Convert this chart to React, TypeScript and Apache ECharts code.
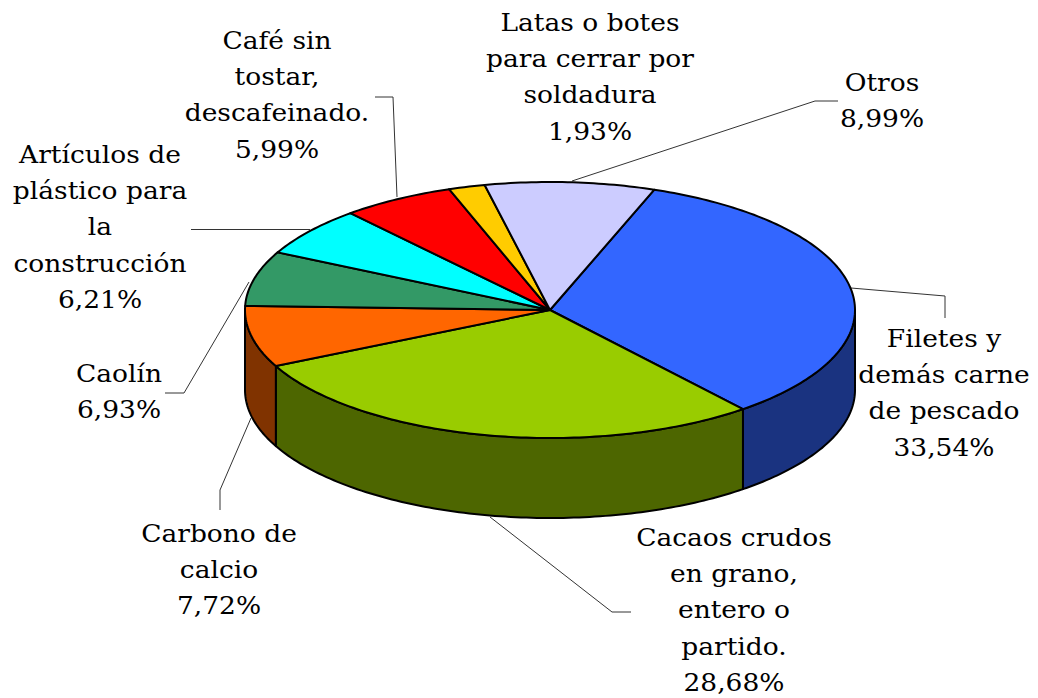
import React, { useEffect, useRef } from "react";
import * as echarts from "echarts";

const categories = [
  "Filetes y\ndemás carne\nde pescado",
  "Cacaos crudos\nen grano,\nentero o\npartido.",
  "Carbono de\ncalcio",
  "Caolín",
  "Artículos de\nplástico para\nla\nconstrucción",
  "Café sin\ntostar,\ndescafeinado.",
  "Latas o botes\npara cerrar por\nsoldadura",
  "Otros",
];
const values = [33.54, 28.68, 7.72, 6.93, 6.21, 5.99, 1.93, 8.99];
const valueLabels = ["33,54%", "28,68%", "7,72%", "6,93%", "6,21%", "5,99%", "1,93%", "8,99%"];
const topColors = ["#3366FF", "#99CC00", "#FF6600", "#339966", "#00FFFF", "#FF0000", "#FFCC00", "#CCCCFF"];
const sideColors = ["#1A3380", "#4D6600", "#803300", "#1A4D33", "#008080", "#800000", "#806600", "#666680"];
const labelCenters = [
  [944, 320], [734, 519], [219, 515], [119, 355], [100, 136], [277, 22], [590, 4], [882, 64],
];
const leaderLines = [
  [[851, 288], [945, 296], [945, 318]],
  [[490, 517], [612, 612], [631, 612]],
  [[251, 418], [220, 490], [220, 510]],
  [[249, 282], [184, 393], [165, 393]],
  [[310, 229.5], [191, 229.5]],
  [[397, 197], [393, 97], [375, 97]],
  [[572, 181], [815, 101], [838, 101]],
];

const CX = 550, CY = 310, RX = 305, RY = 128, DEPTH = 80, START = 20;
const total = values.reduce((a, b) => a + b, 0);
const pt = (deg: number, dy = 0) => {
  const r = (deg * Math.PI) / 180;
  return [CX + RX * Math.sin(r), CY - RY * Math.cos(r) + dy];
};
const arc = (a: number, b: number, dy = 0) => {
  const n = Math.max(2, Math.ceil(Math.abs(b - a)));
  const out: number[][] = [];
  for (let i = 0; i <= n; i++) out.push(pt(a + ((b - a) * i) / n, dy));
  return out;
};

function renderSlice(params: any, api: any) {
  const i = params.dataIndex;
  let before = 0;
  for (let k = 0; k < i; k++) before += values[k];
  const v = api.value(0);
  const a = START + (before / total) * 360;
  const b = a + (v / total) * 360;
  const stroke = { stroke: "#000", lineWidth: 2, lineJoin: "round" };
  const children: any[] = [];
  const s = Math.max(a, 90), e = Math.min(b, 270);
  if (e > s) {
    children.push({
      type: "polygon",
      shape: { points: [...arc(s, e), ...arc(e, s, DEPTH)] },
      style: { fill: sideColors[i], ...stroke },
    });
  }
  children.push({
    type: "polygon",
    shape: { points: [[CX, CY], ...arc(a, b)] },
    style: { fill: topColors[i], ...stroke },
  });
  return { type: "group", children };
}

export default function App() {
  const ref = useRef<HTMLDivElement>(null);
  useEffect(() => {
    const chart = echarts.init(ref.current!, null, { renderer: "svg" });
    chart.setOption({
      animation: false,
      backgroundColor: "#fff",
      graphic: [
        ...leaderLines.map((points) => ({
          type: "polyline",
          z: 1,
          shape: { points },
          style: { fill: "none", stroke: "#333", lineWidth: 1 },
        })),
        ...categories.map((c, i) => ({
          type: "text",
          z: 5,
          x: labelCenters[i][0],
          y: labelCenters[i][1],
          scaleX: 1.06,
          style: {
            text: c + "\n" + valueLabels[i],
            fill: "#000",
            font: '25px "DejaVu Serif"',
            lineHeight: 36.3,
            align: "center",
            verticalAlign: "top",
          },
        })),
      ],
      series: [
        {
          type: "custom",
          coordinateSystem: "none",
          renderItem: renderSlice,
          data: values.map((v) => [v]),
          z: 2,
        },
      ],
    });
    return () => chart.dispose();
  }, []);
  return <div ref={ref} style={{ position: "fixed", left: 0, top: 0, width: 1038, height: 698 }} />;
}
